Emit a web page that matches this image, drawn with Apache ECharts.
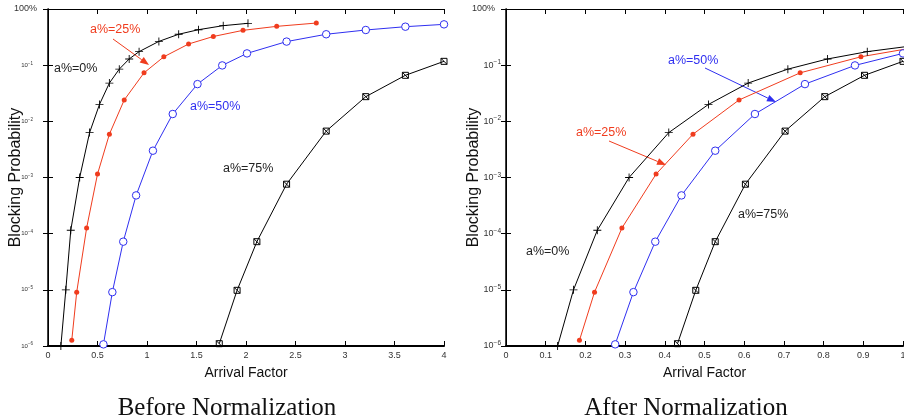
<!DOCTYPE html>
<html>
<head>
<meta charset="utf-8">
<script src="https://cdn.jsdelivr.net/npm/echarts@6/dist/echarts.min.js"></script>
<style>
html, body { margin: 0; padding: 0; background: #fff; }
#main { width: 904px; height: 419px; }
</style>
</head>
<body>
<div id="main"></div>
<script>
// blocking probability for each a% (same y values before / after normalization)
var prob0 = [1.0e-6, 1.0e-5, 1.15e-4, 1.0e-3, 6.3e-3, 2.0e-2, 4.8e-2, 8.5e-2, 0.129, 0.174, 0.265, 0.355, 0.428, 0.505, 0.556];
var prob25 = [1.26e-6, 9.1e-6, 1.26e-4, 1.15e-3, 5.9e-3, 2.4e-2, 7.3e-2, 0.141, 0.238, 0.324, 0.417, 0.491, 0.562];
var prob50 = [1.07e-6, 9.1e-6, 7.2e-5, 4.8e-4, 3.0e-3, 1.35e-2, 4.6e-2, 9.9e-2, 0.162, 0.263, 0.355, 0.423, 0.484, 0.533];
var prob75 = [1.1e-6, 9.8e-6, 7.2e-5, 7.6e-4, 6.7e-3, 2.75e-2, 6.6e-2, 0.117];

// arrival factor, before normalization
var before0 = [0.13, 0.18, 0.23, 0.32, 0.42, 0.52, 0.62, 0.72, 0.82, 0.92, 1.12, 1.32, 1.52, 1.77, 2.02];
var before25 = [0.24, 0.29, 0.39, 0.50, 0.62, 0.77, 0.97, 1.17, 1.42, 1.67, 1.97, 2.31, 2.71];
var before50 = [0.56, 0.65, 0.76, 0.89, 1.06, 1.26, 1.51, 1.76, 2.01, 2.41, 2.81, 3.21, 3.61, 4.0];
var before75 = [1.73, 1.91, 2.11, 2.41, 2.81, 3.21, 3.61, 4.0];

// arrival factor, after normalization
var after0 = [0.13, 0.17, 0.23, 0.31, 0.41, 0.51, 0.61, 0.71, 0.81, 0.91, 1.11];
var after25 = [0.185, 0.223, 0.292, 0.378, 0.471, 0.587, 0.741, 0.894, 1.08];
var after50 = [0.275, 0.321, 0.376, 0.442, 0.527, 0.627, 0.753, 0.879, 1.0, 1.2];
var after75 = [0.432, 0.478, 0.527, 0.603, 0.703, 0.803, 0.903, 1.0];

var labels = ['a%=0%', 'a%=25%', 'a%=50%', 'a%=75%'];
var xTicksBefore = [0, 4, 0.5];
var xTicksAfter = [0, 1, 0.1];

var RED = '#f03c1e';
var BLUE = '#2f2ff0';

function pairs(xs, ys) {
    var out = [];
    for (var i = 0; i < xs.length; i++) {
        out.push([xs[i], ys[i]]);
    }
    return out;
}

var symPlus = 'path://M4.45,0H5.55V4.45H10V5.55H5.55V10H4.45V5.55H0V4.45H4.45Z';
var symBox = 'path://M0,0H10V10H0ZM0,0L10,10';

var styles = [
    { color: '#000', symbol: symPlus, size: 8, item: { color: '#000' } },
    { color: RED, symbol: 'circle', size: 5, item: { color: RED } },
    { color: BLUE, symbol: 'circle', size: 7.5, item: { color: '#fff', borderColor: BLUE, borderWidth: 1 } },
    { color: '#000', symbol: symBox, size: 6, item: { color: 'rgba(0,0,0,0)', borderColor: '#000', borderWidth: 1 } }
];

function makeSeries(name, data, k, gi) {
    var s = styles[k];
    return {
        name: name,
        type: 'line',
        xAxisIndex: gi * 2,
        yAxisIndex: gi * 2,
        data: data,
        clip: true,
        symbol: s.symbol,
        symbolSize: s.size,
        showAllSymbol: true,
        itemStyle: s.item,
        lineStyle: { color: s.color, width: 1 },
        silent: true
    };
}

function yLabel(v) {
    var e = Math.round(Math.log(v) / Math.LN10);
    if (e === 0) return '{p|100%}';
    return '{b|10}{s|\u2212' + (-e) + '}';
}

function xAxes(gi, t) {
    return [{
        gridIndex: gi, type: 'value', min: t[0], max: t[1], interval: t[2], position: 'bottom',
        name: 'Arrival Factor', nameLocation: 'middle', nameGap: 20, nameMoveOverlap: false,
        nameTextStyle: { fontFamily: 'Liberation Sans', fontSize: 14, color: '#111' },
        axisLine: { lineStyle: { color: '#000', width: 2 } },
        axisTick: { inside: true, length: 5, lineStyle: { color: '#000' } },
        axisLabel: { fontFamily: 'Liberation Sans', fontSize: 9, color: '#333', margin: 5 },
        splitLine: { show: false }
    }, {
        gridIndex: gi, type: 'value', min: t[0], max: t[1], interval: t[2], position: 'top',
        axisLine: { lineStyle: { color: '#000', width: 1 } },
        axisTick: { inside: true, length: 5, lineStyle: { color: '#000' } },
        axisLabel: { show: false },
        splitLine: { show: false }
    }];
}

// lab = [margin, base size, sup size, sup right pad, 100% right pad]
function yAxes(gi, lab) {
    return [{
        gridIndex: gi, type: 'log', logBase: 10, min: 1e-6, max: 1, position: 'left',
        name: 'Blocking Probability', nameLocation: 'middle', nameGap: 24, nameMoveOverlap: false,
        nameTextStyle: { fontFamily: 'Liberation Sans', fontSize: 16, color: '#111' },
        axisLine: { lineStyle: { color: '#000', width: 1.5 } },
        axisTick: { inside: true, length: 5, lineStyle: { color: '#000' } },
        axisLabel: {
            margin: lab[0], formatter: yLabel, color: '#333', fontFamily: 'Liberation Sans', fontSize: 9,
            rich: {
                p: { fontFamily: 'Liberation Sans', fontSize: 9, color: '#333', padding: [0, lab[4], 0, 0] },
                b: { fontFamily: 'Liberation Sans', fontSize: lab[1], color: '#333' },
                s: { fontFamily: 'Liberation Sans', fontSize: lab[2], color: '#333', padding: [0, lab[3], lab[1] * 0.6, 0] }
            }
        },
        minorTick: { show: false },
        splitLine: { show: false }
    }, {
        gridIndex: gi, type: 'log', logBase: 10, min: 1e-6, max: 1, position: 'right',
        axisLine: { lineStyle: { color: '#000', width: 1 } },
        axisTick: { inside: true, length: 5, lineStyle: { color: '#000' } },
        axisLabel: { show: false },
        splitLine: { show: false }
    }];
}

function txt(s, x, y, color, size, font) {
    return {
        type: 'text', x: x, y: y, silent: true,
        style: { text: s, fill: color, font: size + 'px "' + font + '"', verticalAlign: 'middle', align: 'left' }
    };
}

function arrow(x1, y1, x2, y2, color) {
    var a = Math.atan2(y2 - y1, x2 - x1);
    var L = 9, W = 3.5;
    var bx = x2 - L * Math.cos(a), by = y2 - L * Math.sin(a);
    return [
        { type: 'line', silent: true, shape: { x1: x1, y1: y1, x2: bx, y2: by }, style: { stroke: color, lineWidth: 1 } },
        { type: 'polygon', silent: true, shape: { points: [[x2, y2], [bx - W * Math.sin(a), by + W * Math.cos(a)], [bx + W * Math.sin(a), by - W * Math.cos(a)]] }, style: { fill: color } }
    ];
}

var graphics = [
    txt(labels[0], 54, 69, '#222', 12.5, 'Liberation Sans'),
    txt(labels[1], 90, 30, RED, 12.5, 'Liberation Sans'),
    txt(labels[2], 190, 107, BLUE, 12.5, 'Liberation Sans'),
    txt(labels[3], 223, 169, '#222', 12.5, 'Liberation Sans'),
    txt(labels[0], 526, 252, '#222', 12.5, 'Liberation Sans'),
    txt(labels[1], 576, 133, RED, 12.5, 'Liberation Sans'),
    txt(labels[2], 668, 61, BLUE, 12.5, 'Liberation Sans'),
    txt(labels[3], 738, 215, '#222', 12.5, 'Liberation Sans'),
    {
        type: 'text', x: 227, y: 408, silent: true,
        style: { text: 'Before Normalization', fill: '#111', font: '25px "Liberation Serif"', align: 'center', verticalAlign: 'middle' }
    },
    {
        type: 'text', x: 686, y: 408, silent: true,
        style: { text: 'After Normalization', fill: '#111', font: '25px "Liberation Serif"', align: 'center', verticalAlign: 'middle' }
    }
].concat(arrow(113, 39, 149, 65, RED), arrow(609, 141, 666, 165, RED), arrow(705, 68, 776, 102, BLUE));

var chart = echarts.init(document.getElementById('main'), null, { renderer: 'canvas' });
var option = {
    animation: false,
    backgroundColor: '#fff',
    grid: [
        { left: 48, top: 9, width: 396, height: 337, outerBoundsMode: 'none', containLabel: false },
        { left: 506, top: 9, width: 397, height: 337, outerBoundsMode: 'none', containLabel: false }
    ],
    xAxis: xAxes(0, xTicksBefore).concat(xAxes(1, xTicksAfter)),
    yAxis: yAxes(0, [11, 6, 4.5, 4, 0]).concat(yAxes(1, [5, 9, 6.5, 0, 6])),
    series: [
        makeSeries(labels[0], pairs(before0, prob0), 0, 0),
        makeSeries(labels[1], pairs(before25, prob25), 1, 0),
        makeSeries(labels[2], pairs(before50, prob50), 2, 0),
        makeSeries(labels[3], pairs(before75, prob75), 3, 0),
        makeSeries(labels[0], pairs(after0, prob0), 0, 1),
        makeSeries(labels[1], pairs(after25, prob25), 1, 1),
        makeSeries(labels[2], pairs(after50, prob50), 2, 1),
        makeSeries(labels[3], pairs(after75, prob75), 3, 1)
    ],
    graphic: graphics
};
chart.setOption(option);
</script>
</body>
</html>
